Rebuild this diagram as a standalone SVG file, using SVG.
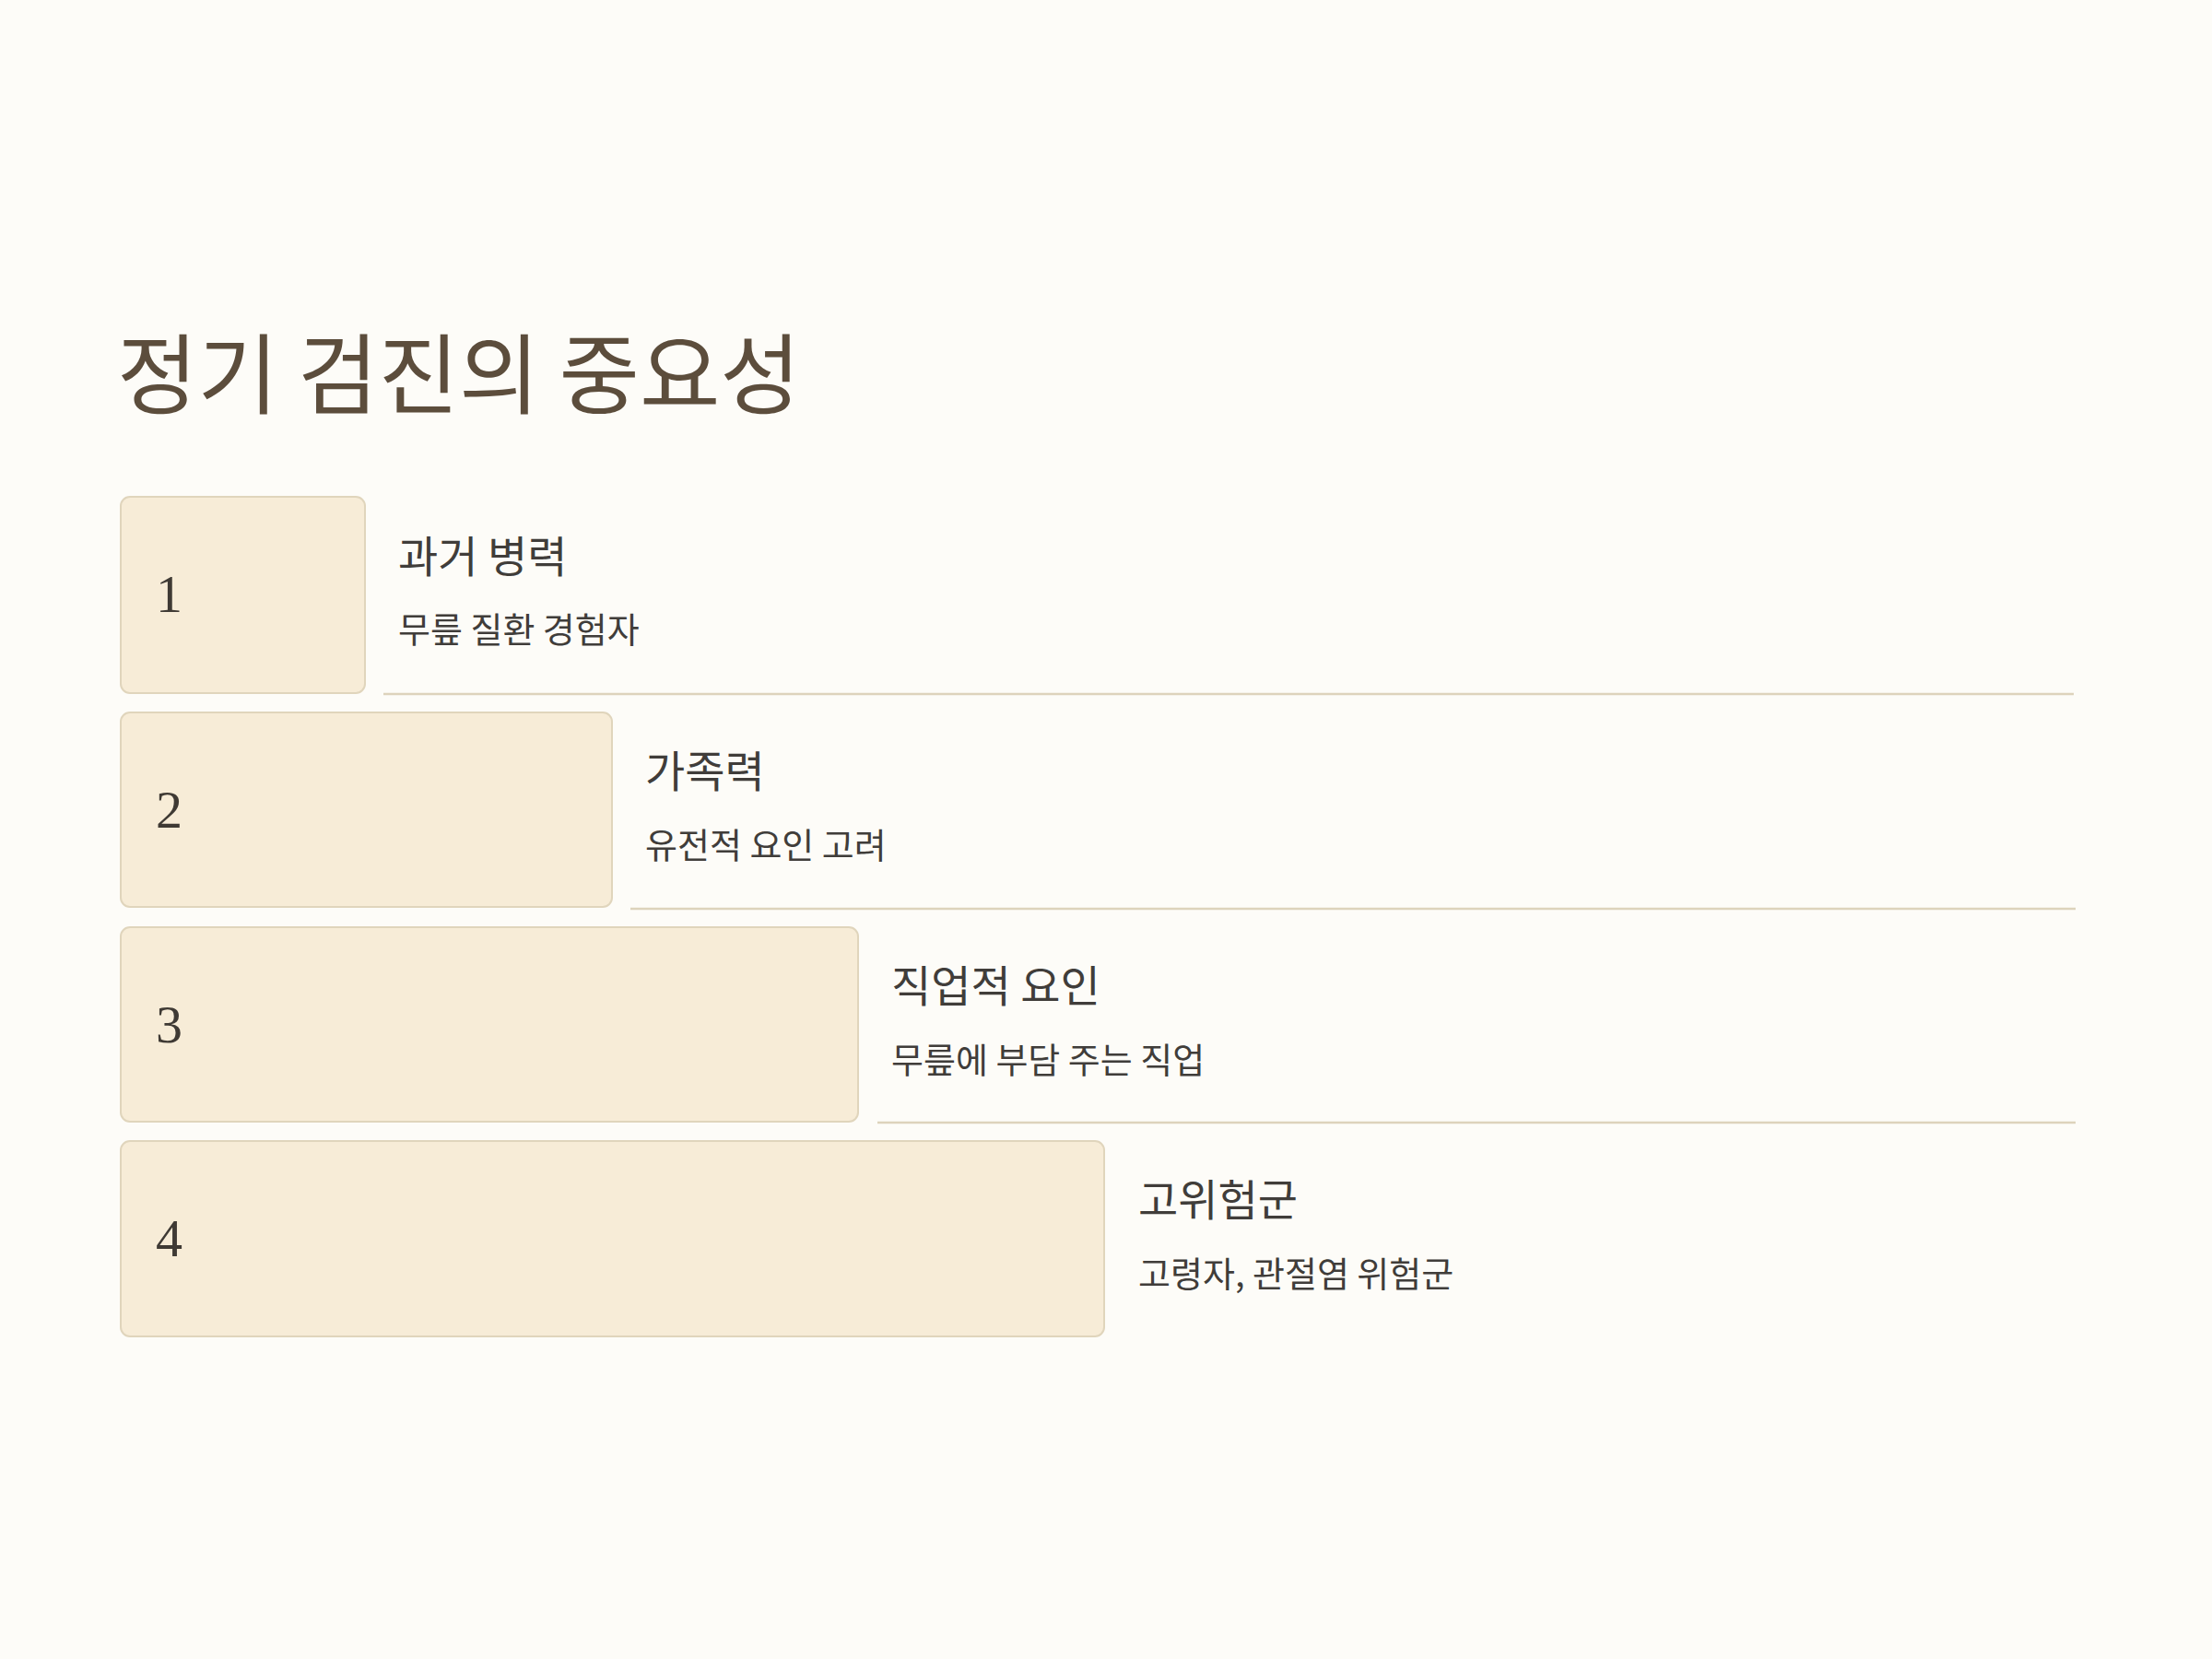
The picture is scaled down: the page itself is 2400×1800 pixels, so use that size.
<svg xmlns="http://www.w3.org/2000/svg" width="2400" height="1800" viewBox="0 0 2400 1800">
<style>
.bg{fill:#FDFCF8}
.title{font-family:"Noto Sans CJK KR","Noto Sans",sans-serif;font-size:95px;fill:#5C4D3C}
.box{fill:#F7ECD7;stroke:#E0D5BC;stroke-width:2}
.num{font-family:"Liberation Serif","DejaVu Serif",serif;font-size:58px;fill:#3F3A34}
.head{font-family:"Noto Sans CJK KR","Noto Sans",sans-serif;font-size:47px;fill:#403D3A}
.sub{font-family:"Noto Sans CJK KR","Noto Sans",sans-serif;font-size:38px;fill:#403D3A}
.sep{stroke:#DDD3BC;stroke-width:2.5}
</style>
<rect class="bg" x="0" y="0" width="2400" height="1800"/>
<text id="title" class="title" x="127" y="442">정기 검진의 중요성</text>
<g id="connectors">
<line class="sep" x1="416" y1="753" x2="2250" y2="753"/>
<line class="sep" x1="684" y1="986" x2="2252" y2="986"/>
<line class="sep" x1="952" y1="1218" x2="2252" y2="1218"/>
</g>
<g id="node1">
<rect class="box" x="131" y="539" width="265" height="213" rx="10"/>
<text class="num" x="169" y="664">1</text>
<text class="head" x="432" y="621">과거 병력</text>
<text class="sub" x="432" y="697">무릎 질환 경험자</text>
</g>
<g id="node2">
<rect class="box" x="131" y="773" width="533" height="211" rx="10"/>
<text class="num" x="169" y="898">2</text>
<text class="head" x="700" y="854">가족력</text>
<text class="sub" x="700" y="931">유전적 요인 고려</text>
</g>
<g id="node3">
<rect class="box" x="131" y="1006" width="800" height="211" rx="10"/>
<text class="num" x="169" y="1131">3</text>
<text class="head" x="967" y="1087">직업적 요인</text>
<text class="sub" x="967" y="1164">무릎에 부담 주는 직업</text>
</g>
<g id="node4">
<rect class="box" x="131" y="1238" width="1067" height="212" rx="10"/>
<text class="num" x="169" y="1363">4</text>
<text class="head" x="1235" y="1319">고위험군</text>
<text class="sub" x="1235" y="1396">고령자, 관절염 위험군</text>
</g>
</svg>
